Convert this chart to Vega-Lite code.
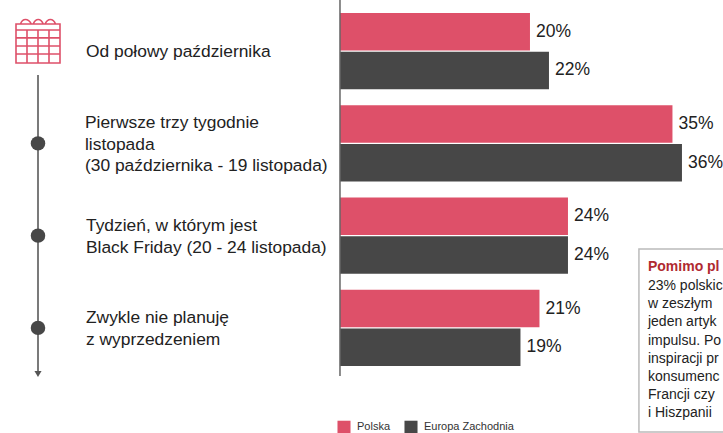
{
"$schema":"https://vega.github.io/schema/vega-lite/v6.json",
"width":723,"height":433,"padding":0,"autosize":{"type":"none"},"background":"white",
"config":{"view":{"stroke":null},"font":"Liberation Sans"},
"datasets":{
"rows":[
{"okres":"Od połowy października","grupa":"Polska","udzial":0.20},
{"okres":"Od połowy października","grupa":"Europa Zachodnia","udzial":0.22},
{"okres":"Pierwsze trzy tygodnie|listopada|(30 października - 19 listopada)","grupa":"Polska","udzial":0.35},
{"okres":"Pierwsze trzy tygodnie|listopada|(30 października - 19 listopada)","grupa":"Europa Zachodnia","udzial":0.36},
{"okres":"Tydzień, w którym jest|Black Friday (20 - 24 listopada)","grupa":"Polska","udzial":0.24},
{"okres":"Tydzień, w którym jest|Black Friday (20 - 24 listopada)","grupa":"Europa Zachodnia","udzial":0.24},
{"okres":"Zwykle nie planuję|z wyprzedzeniem","grupa":"Polska","udzial":0.21},
{"okres":"Zwykle nie planuję|z wyprzedzeniem","grupa":"Europa Zachodnia","udzial":0.19}
],
"dots":[
{"okres":"Pierwsze trzy tygodnie|listopada|(30 października - 19 listopada)"},
{"okres":"Tydzień, w którym jest|Black Friday (20 - 24 listopada)"},
{"okres":"Zwykle nie planuję|z wyprzedzeniem"}
],
"one":[{"a":1}]
},
"resolve":{"scale":{"y":"independent"}},
"layer":[
{"data":{"name":"rows"},"mark":{"type":"bar"},
"encoding":{
"x":{"field":"udzial","type":"quantitative","stack":null,"axis":null,"scale":{"domain":[-0.3579,0.4032],"range":[0,723],"nice":false,"zero":false}},
"y":{"field":"okres","type":"nominal","axis":null,"sort":null,"scale":{"domain":["Od połowy października","Pierwsze trzy tygodnie|listopada|(30 października - 19 listopada)","Tydzień, w którym jest|Black Friday (20 - 24 listopada)","Zwykle nie planuję|z wyprzedzeniem"],"range":[5,374],"paddingInner":0.176,"paddingOuter":0.088}},
"yOffset":{"field":"grupa","type":"nominal","scale":{"domain":["Polska","Europa Zachodnia"],"paddingInner":0.03}},
"color":{"field":"grupa","type":"nominal","scale":{"domain":["Polska","Europa Zachodnia"],"range":["#DE5069","#474747"]},
"legend":{"title":null,"orient":"none","direction":"horizontal","legendX":337,"legendY":420,"symbolType":"square","symbolSize":170,"symbolStrokeWidth":0,"labelFontSize":11,"labelColor":"#333","labelFont":"Liberation Sans","columnPadding":13,"labelOffset":6}}
}},
{"data":{"name":"rows"},"mark":{"type":"text","align":"left","baseline":"middle","dx":6,"fontSize":17.5,"color":"#222"},
"encoding":{
"x":{"field":"udzial","type":"quantitative","stack":null,"axis":null,"scale":{"domain":[-0.3579,0.4032],"range":[0,723],"nice":false,"zero":false}},
"y":{"field":"okres","type":"nominal","axis":null,"sort":null,"scale":{"domain":["Od połowy października","Pierwsze trzy tygodnie|listopada|(30 października - 19 listopada)","Tydzień, w którym jest|Black Friday (20 - 24 listopada)","Zwykle nie planuję|z wyprzedzeniem"],"range":[5,374],"paddingInner":0.176,"paddingOuter":0.088}},
"yOffset":{"field":"grupa","type":"nominal","scale":{"domain":["Polska","Europa Zachodnia"],"paddingInner":0.03}},
"text":{"field":"udzial","type":"quantitative","format":".0%"}
}},
{"data":{"values":[{"okres":"Od połowy października"}]},"mark":{"type":"text","align":"left","baseline":"middle","dy":1,"fontSize":17.4,"color":"#222","lineBreak":"|","lineHeight":21.5},
"encoding":{
"x":{"datum":-0.2674,"type":"quantitative","axis":null,"scale":{"domain":[-0.3579,0.4032],"range":[0,723],"nice":false,"zero":false}},
"y":{"field":"okres","type":"nominal","axis":null,"sort":null,"scale":{"domain":["Od połowy października","Pierwsze trzy tygodnie|listopada|(30 października - 19 listopada)","Tydzień, w którym jest|Black Friday (20 - 24 listopada)","Zwykle nie planuję|z wyprzedzeniem"],"range":[5,374],"paddingInner":0.176,"paddingOuter":0.088}},
"text":{"field":"okres","type":"nominal"}
}},
{"data":{"values":[{"okres":"Pierwsze trzy tygodnie|listopada|(30 października - 19 listopada)"}]},"mark":{"type":"text","align":"left","baseline":"middle","dy":-20,"dx":-1,"fontSize":17.4,"color":"#222","lineBreak":"|","lineHeight":21.5},
"encoding":{
"x":{"datum":-0.2674,"type":"quantitative","axis":null,"scale":{"domain":[-0.3579,0.4032],"range":[0,723],"nice":false,"zero":false}},
"y":{"field":"okres","type":"nominal","axis":null,"sort":null,"scale":{"domain":["Od połowy października","Pierwsze trzy tygodnie|listopada|(30 października - 19 listopada)","Tydzień, w którym jest|Black Friday (20 - 24 listopada)","Zwykle nie planuję|z wyprzedzeniem"],"range":[5,374],"paddingInner":0.176,"paddingOuter":0.088}},
"text":{"field":"okres","type":"nominal"}
}},
{"data":{"values":[{"okres":"Tydzień, w którym jest|Black Friday (20 - 24 listopada)"},{"okres":"Zwykle nie planuję|z wyprzedzeniem"}]},"mark":{"type":"text","align":"left","baseline":"middle","dy":-9.5,"fontSize":17.4,"color":"#222","lineBreak":"|","lineHeight":21.5},
"encoding":{
"x":{"datum":-0.2674,"type":"quantitative","axis":null,"scale":{"domain":[-0.3579,0.4032],"range":[0,723],"nice":false,"zero":false}},
"y":{"field":"okres","type":"nominal","axis":null,"sort":null,"scale":{"domain":["Od połowy października","Pierwsze trzy tygodnie|listopada|(30 października - 19 listopada)","Tydzień, w którym jest|Black Friday (20 - 24 listopada)","Zwykle nie planuję|z wyprzedzeniem"],"range":[5,374],"paddingInner":0.176,"paddingOuter":0.088}},
"text":{"field":"okres","type":"nominal"}
}},
{"data":{"name":"one"},"mark":{"type":"rule","color":"#7a7a7a","strokeWidth":2},
"encoding":{
"x":{"datum":-0.3179,"type":"quantitative","axis":null,"scale":{"domain":[-0.3579,0.4032],"range":[0,723],"nice":false,"zero":false}},
"y":{"datum":75,"type":"quantitative","axis":null,"scale":{"domain":[0,433],"range":[0,433],"nice":false,"zero":false}},
"y2":{"datum":372}
}},
{"data":{"name":"dots"},"mark":{"type":"point","shape":"circle","filled":true,"size":210,"opacity":1,"color":"#474747","dy":1},
"encoding":{
"x":{"datum":-0.3179,"type":"quantitative","axis":null,"scale":{"domain":[-0.3579,0.4032],"range":[0,723],"nice":false,"zero":false}},
"y":{"field":"okres","type":"nominal","axis":null,"sort":null,"scale":{"domain":["Od połowy października","Pierwsze trzy tygodnie|listopada|(30 października - 19 listopada)","Tydzień, w którym jest|Black Friday (20 - 24 listopada)","Zwykle nie planuję|z wyprzedzeniem"],"range":[5,374],"paddingInner":0.176,"paddingOuter":0.088}}
}},
{"data":{"name":"one"},"mark":{"type":"point","shape":"triangle-down","filled":true,"size":50,"opacity":1,"color":"#555"},
"encoding":{
"x":{"datum":-0.3179,"type":"quantitative","axis":null,"scale":{"domain":[-0.3579,0.4032],"range":[0,723],"nice":false,"zero":false}},
"y":{"datum":374,"type":"quantitative","axis":null,"scale":{"domain":[0,433],"range":[0,433],"nice":false,"zero":false}}
}},
{"data":{"name":"one"},"mark":{"type":"point","shape":"M-1 -0.77H1V1H-1ZM-1 -0.5H1M-1 -0.14H1M-1 0.23H1M-1 0.59H1M-0.5 -0.5V1M0 -0.5V1M0.5 -0.5V1M-0.8 -0.77C-0.7 -1.05 -0.45 -1.05 -0.3 -0.77M-0.22 -0.77C-0.1 -1.05 0.12 -1.05 0.24 -0.77M0.32 -0.77C0.45 -1.05 0.68 -1.05 0.8 -0.77","filled":false,"size":1936,"opacity":1,"color":"#DE5069","strokeWidth":1.6},
"encoding":{
"x":{"datum":-0.3179,"type":"quantitative","axis":null,"scale":{"domain":[-0.3579,0.4032],"range":[0,723],"nice":false,"zero":false}},
"y":{"datum":41,"type":"quantitative","axis":null,"scale":{"domain":[0,433],"range":[0,433],"nice":false,"zero":false}}
}},
{"data":{"name":"one"},"mark":{"type":"rule","color":"#666","strokeWidth":1.5},
"encoding":{
"x":{"datum":0,"type":"quantitative","axis":null,"scale":{"domain":[-0.3579,0.4032],"range":[0,723],"nice":false,"zero":false}},
"y":{"datum":0,"type":"quantitative","axis":null,"scale":{"domain":[0,433],"range":[0,433],"nice":false,"zero":false}},
"y2":{"datum":376}
}},
{"data":{"name":"one"},"mark":{"type":"rect","fill":"white","stroke":"#bbbbbb","strokeWidth":1.5},
"encoding":{
"x":{"datum":0.3147,"type":"quantitative","axis":null,"scale":{"domain":[-0.3579,0.4032],"range":[0,723],"nice":false,"zero":false}},
"x2":{"datum":0.42},
"y":{"datum":249,"type":"quantitative","axis":null,"scale":{"domain":[0,433],"range":[0,433],"nice":false,"zero":false}},
"y2":{"datum":432}
}},
{"data":{"values":[{"t":"Pomimo pl"}]},"mark":{"type":"text","align":"left","baseline":"middle","fontSize":14,"fontWeight":"bold","color":"#B02A30"},
"encoding":{
"x":{"datum":0.3242,"type":"quantitative","axis":null,"scale":{"domain":[-0.3579,0.4032],"range":[0,723],"nice":false,"zero":false}},
"y":{"datum":267,"type":"quantitative","axis":null,"scale":{"domain":[0,433],"range":[0,433],"nice":false,"zero":false}},
"text":{"field":"t","type":"nominal"}
}},
{"data":{"values":[{"t":"23% polskic|w zeszłym|jeden artyk|impulsu. Po|inspiracji pr|konsumenc|Francji czy|i Hiszpanii"}]},"mark":{"type":"text","align":"left","baseline":"middle","fontSize":14,"color":"#222","lineBreak":"|","lineHeight":18.2},
"encoding":{
"x":{"datum":0.3242,"type":"quantitative","axis":null,"scale":{"domain":[-0.3579,0.4032],"range":[0,723],"nice":false,"zero":false}},
"y":{"datum":286,"type":"quantitative","axis":null,"scale":{"domain":[0,433],"range":[0,433],"nice":false,"zero":false}},
"text":{"field":"t","type":"nominal"}
}}
]
}
